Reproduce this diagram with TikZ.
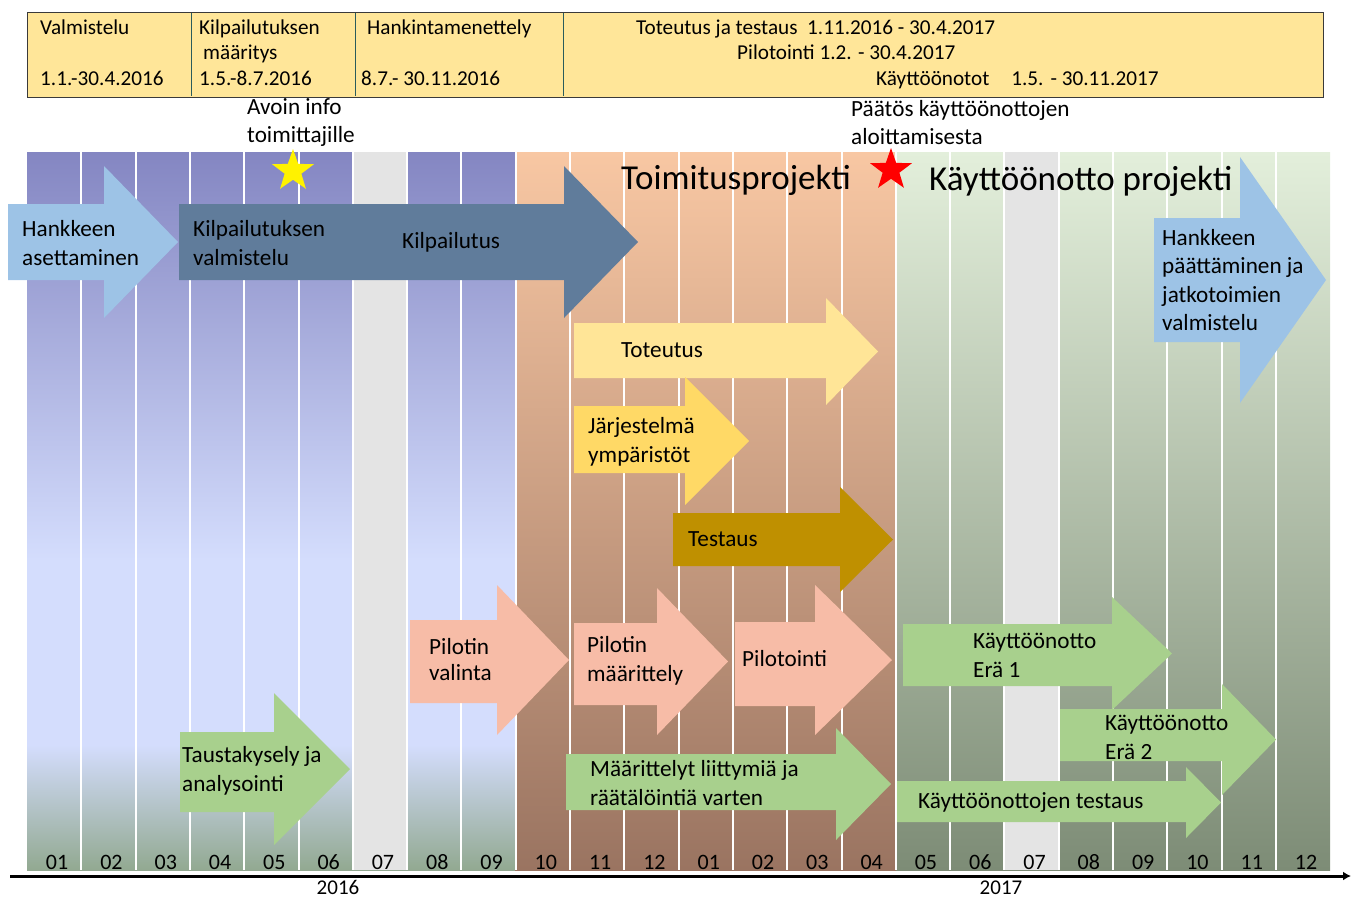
\documentclass[tikz,border=0pt]{standalone}
\usepackage{fontspec}
\setmainfont{Carlito}
\usepackage{xcolor}
\usepackage{tikz}
\usetikzlibrary{positioning, shapes.geometric, arrows.meta}

\definecolor{purpletop}{HTML}{8486C2}
\definecolor{bluemid}{HTML}{D4DDFD}
\definecolor{greyblue}{HTML}{92A991}
\definecolor{peachtop}{HTML}{F8C7A3}
\definecolor{peachbot}{HTML}{9A7461}
\definecolor{greentop}{HTML}{E3EFDB}
\definecolor{greenbot}{HTML}{7D8C76}
\definecolor{monthgray}{HTML}{E4E4E4}
\definecolor{headerfill}{HTML}{FFE699}
\definecolor{headerline}{HTML}{3A3A3A}
\definecolor{divider}{HTML}{2A5C5C}
\definecolor{skyblue}{HTML}{9DC3E6}
\definecolor{slate}{HTML}{607C9B}
\definecolor{lightyellow}{HTML}{FFE597}
\definecolor{gold}{HTML}{FFD966}
\definecolor{darkgold}{HTML}{BF9000}
\definecolor{salmon}{HTML}{F7BCA7}
\definecolor{leafgreen}{HTML}{A8D08D}

\newcommand{\blockarrow}[8]{\fill[#1] (#2,#3) -- (#5,#3) -- (#5,#6) -- (#8,{(#6+#7)/2}) -- (#5,#7) -- (#5,#4) -- (#2,#4) -- cycle;}

\begin{document}
\begin{tikzpicture}
	[
	   x = 1pt, y = -1pt,
	   lbl/.style = {anchor = west, align = left, inner sep = 0pt, font = \fontsize{23.2}{29}\selectfont},
	   hdr/.style = {anchor = west, inner sep = 0pt, text height = 14.5pt, text depth = 4.5pt, font = \fontsize{21.2}{25}\selectfont},
	   month/.style = {inner sep = 0pt, text height = 15pt, text depth = 0pt, font = \fontsize{22}{22}\selectfont},
	   title/.style = {anchor = west, inner sep = 0pt, font = \fontsize{35}{40}\selectfont},
	   milestone/.style = {star, star points = 5, star point ratio = 2.5, inner sep = 0pt, minimum size = 44pt},
	]
	\useasboundingbox (0,0) rectangle (1351,900);

	\shade[top color = purpletop, bottom color = bluemid] (27,152) rectangle (515,560);
	\fill[bluemid] (27,559) rectangle (515,746);
	\shade[top color = bluemid, bottom color = greyblue] (27,745) rectangle (515,870);
	\shade[top color = peachtop, bottom color = peachbot] (515,152) rectangle (896,870);
	\shade[top color = greentop, bottom color = greenbot] (896,152) rectangle (1330,870);
	\fill[monthgray] ({27+6*54.3},152) rectangle ({27+7*54.3},870);
	\fill[monthgray] ({27+18*54.3},152) rectangle ({27+19*54.3},870);
	\foreach \k in {1,...,23}
		\draw[white, line width = 2pt] ({27+\k*54.3},152) -- ({27+\k*54.3},870);

	\node[draw = headerline, line width = 1.2pt, fill = headerfill, anchor = north west,
	      minimum width = 1296pt, minimum height = 85pt, inner sep = 0pt] (header) at (27,12) {};
	\foreach \dx in {191, 355, 563}
		\draw[divider, line width = 0.8pt] (\dx,13) -- (\dx,96);
	\node[hdr] (valm) at (40,29) {Valmistelu};
	\node[hdr] (valmdate) at (40,80) {1.1.-30.4.2016};
	\node[hdr] (kilpmaar) at (199,29) {Kilpailutuksen};
	\node[hdr] (kilpmaar2) at (203,54) {määritys};
	\node[hdr] (kilpdate) at (199,80) {1.5.-8.7.2016};
	\node[hdr] (hankinta) at (367,29) {Hankintamenettely};
	\node[hdr] (hankdate) at (361,80) {8.7.- 30.11.2016};
	\node[hdr] (totdate) at (636,29) {Toteutus ja testaus\ \ 1.11.2016 - 30.4.2017};
	\node[hdr] (pildate) at (737,54) {Pilotointi 1.2. - 30.4.2017};
	\node[hdr] (kaytdate) at (876,80) {Käyttöönotot\hspace{22pt}1.5.\hspace{7pt}- 30.11.2017};

	\node[lbl, font = \fontsize{23.2}{28}\selectfont] (avoin) at (247,123) {Avoin info\\toimittajille};
	\node[lbl, font = \fontsize{23.2}{28}\selectfont] (paatos) at (851,123) {Päätös käyttöönottojen\\aloittamisesta};
	\node[milestone, fill = yellow] (infostar) at (293,171) {};
	\node[milestone, fill = red] (decisionstar) at (891,170) {};
	\node[title] (toimitus) at (621,180) {Toimitusprojekti};
	\node[title] (kaytto) at (929,181) {Käyttöönotto projekti};

	\blockarrow{skyblue}{8}{204}{280}{104}{166}{318}{178}
	\blockarrow{slate}{179}{204}{280}{564}{166}{318}{638}
	\blockarrow{lightyellow}{574}{323}{378}{826}{298}{405}{878}
	\blockarrow{gold}{574}{406}{473}{685}{377}{505}{749}
	\blockarrow{darkgold}{673}{513}{566}{840}{487}{592}{893}
	\blockarrow{salmon}{410}{620}{703}{497}{585}{735}{569}
	\blockarrow{salmon}{574}{623}{705}{657}{588}{735}{728}
	\blockarrow{salmon}{735}{622}{706}{815}{585}{735}{892}
	\blockarrow{leafgreen}{180}{732}{812}{274}{693}{845}{350}
	\blockarrow{leafgreen}{566}{754}{810}{836}{728}{840}{891}
	\blockarrow{leafgreen}{903}{624}{686}{1112}{597}{710}{1172}
	\blockarrow{leafgreen}{1060}{709}{761}{1222}{684}{795}{1276}
	\blockarrow{leafgreen}{897}{781}{822}{1186}{767}{838}{1221}
	\blockarrow{skyblue}{1154}{218}{342}{1240}{157}{403}{1326}

	\node[lbl] (hanke) at (22,243) {Hankkeen\\asettaminen};
	\node[lbl] (kilpval) at (193,243) {Kilpailutuksen\\valmistelu};
	\node[lbl] (kilp) at (402,242) {Kilpailutus};
	\node[lbl] (toteutus) at (621,350) {Toteutus};
	\node[lbl] (jarj) at (588,442) {Järjestelmä\\ympäristöt};
	\node[lbl] (testaus) at (688,539) {Testaus};
	\node[lbl, font = \fontsize{23.2}{26}\selectfont] (pilval) at (429,660) {Pilotin\\valinta};
	\node[lbl] (pilmaar) at (587,661) {Pilotin\\määrittely};
	\node[lbl] (pilotointi) at (742,659) {Pilotointi};
	\node[lbl] (tausta) at (182,771) {Taustakysely ja\\analysointi};
	\node[lbl] (liittymat) at (590,783) {Määrittelyt liittymiä ja\\räätälöintiä varten};
	\node[lbl] (era1) at (973,655) {Käyttöönotto\\Erä 1};
	\node[lbl] (era2) at (1105,737) {Käyttöönotto\\Erä 2};
	\node[lbl] (kaytest) at (918,802) {Käyttöönottojen testaus};
	\node[lbl, font = \fontsize{23.2}{28.5}\selectfont] (paatto) at (1162,280) {Hankkeen\\päättäminen ja\\jatkotoimien\\valmistelu};

	\foreach \m [count = \k] in {01,02,03,04,05,06,07,08,09,10,11,12,01,02,03,04,05,06,07,08,09,10,11,12}
		\node[month] (m\k) at ({30+(\k-0.5)*54.3},862) {\m};
	\node[month, font = \fontsize{21}{21}\selectfont] (y2016) at (338,887) {2016};
	\node[month, font = \fontsize{21}{21}\selectfont] (y2017) at (1001,887) {2017};
	\coordinate (axisstart) at (10,876);
	\coordinate (axisend) at (1351,876);
	\draw[line width = 3pt, -{Latex[length = 8pt, width = 9pt]}] (axisstart) -- (axisend);
\end{tikzpicture}
\end{document}
